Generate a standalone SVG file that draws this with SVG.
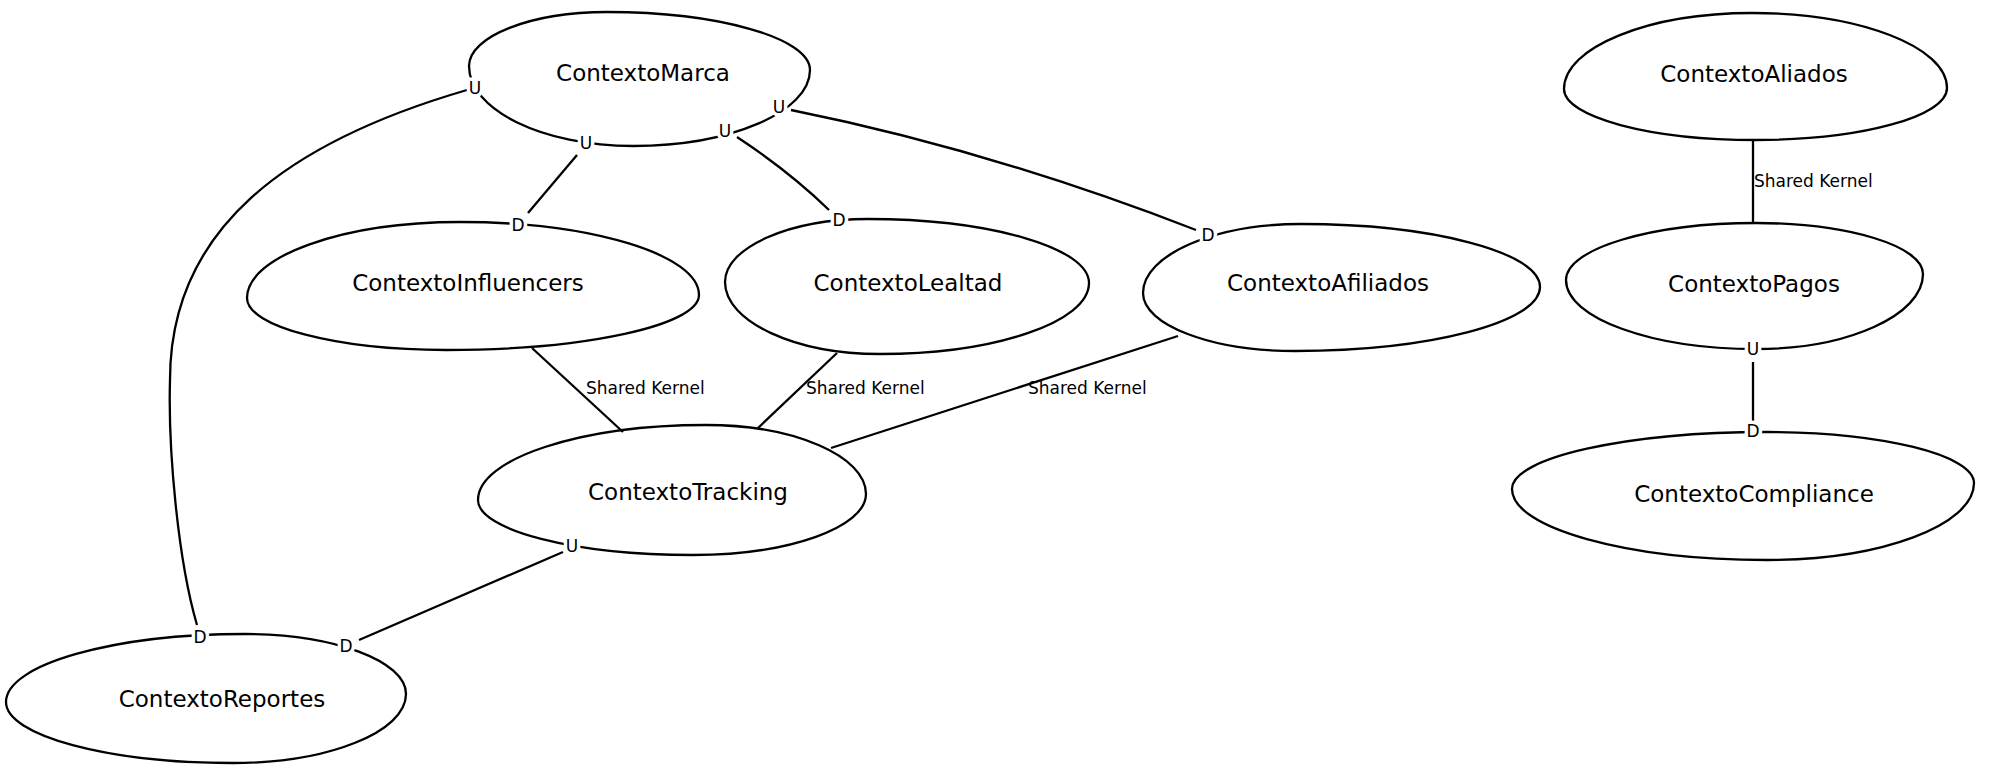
<svg xmlns="http://www.w3.org/2000/svg" width="2000" height="776" viewBox="0 0 2000 776">
<style>
.node{fill:none;stroke:#000;stroke-width:2.3}
.edge{fill:none;stroke:#000;stroke-width:2.3}
.name{font-family:"DejaVu Sans",sans-serif;font-size:23px;text-anchor:middle;fill:#000}
.ud{font-family:"DejaVu Sans",sans-serif;font-size:17px;text-anchor:middle;fill:#000;stroke:#fff;stroke-width:7;paint-order:stroke;stroke-linejoin:round}
.sk{font-family:"DejaVu Sans",sans-serif;font-size:17px;fill:#000}
</style>
<rect width="2000" height="776" fill="#fff"/>
<g id="connectors">
<path class="edge" d="M467,90 C285,143 170,230 170,380 C168,450 178,560 197,625"/>
<path class="edge" d="M577,155 L528,213"/>
<path class="edge" d="M737,137 Q790,172 829,210"/>
<path class="edge" d="M791,110 Q990,150 1196,230"/>
<path class="edge" d="M532,348 L623,432"/>
<path class="edge" d="M837,353 L758,428"/>
<path class="edge" d="M1178,336 L831,448"/>
<path class="edge" d="M563,552 L359,640"/>
<path class="edge" d="M1753,141 L1753,224"/>
<path class="edge" d="M1753,362 L1753,422"/>
<text class="sk" x="586" y="394">Shared Kernel</text>
<text class="sk" x="806" y="394">Shared Kernel</text>
<text class="sk" x="1028" y="394">Shared Kernel</text>
<text class="sk" x="1754" y="187">Shared Kernel</text>
</g>
<g id="ContextoMarca">
<path class="node" d="M469,66 C469,36.3 531.1,12 607,12 C718.7,12 810,38.1 810,70 C810,111.8 730.4,146 633,146 C542.8,146 469,110 469,66 Z"/>
<text class="name" x="643" y="81">ContextoMarca</text>
</g>
<g id="ContextoInfluencers">
<path class="node" d="M247,298 C247,256.2 342.9,222 460,222 C591.5,222 699,254.9 699,295 C699,325.3 585.2,350 446,350 C336.6,350 247,326.6 247,298 Z"/>
<text class="name" x="468" y="291">ContextoInfluencers</text>
</g>
<g id="ContextoLealtad">
<path class="node" d="M725,282 C725,247.4 789.4,219 868,219 C989.6,219 1089,247.8 1089,283 C1089,322.1 995,354 880,354 C794.8,354 725,321.6 725,282 Z"/>
<text class="name" x="908" y="291">ContextoLealtad</text>
</g>
<g id="ContextoAfiliados">
<path class="node" d="M1143,293 C1143,255.1 1214.1,224 1301,224 C1432.5,224 1540,252.4 1540,287 C1540,322.2 1429.8,351 1295,351 C1211.4,351 1143,324.9 1143,293 Z"/>
<text class="name" x="1328" y="291">ContextoAfiliados</text>
</g>
<g id="ContextoTracking">
<path class="node" d="M478,500 C478,458.75 580.6,425 706,425 C794,425 866,456.05 866,494 C866,527.55 788.15,555 693,555 C574.75,555 478,530.25 478,500 Z"/>
<text class="name" x="688" y="500">ContextoTracking</text>
</g>
<g id="ContextoReportes">
<path class="node" d="M6,702 C6,664.6 113.55,634 245,634 C333.55,634 406,661 406,694 C406,731.95 328.15,763 233,763 C108.15,763 6,735.55 6,702 Z"/>
<text class="name" x="222" y="707">ContextoReportes</text>
</g>
<g id="ContextoAliados">
<path class="node" d="M1564,89 C1564,47.2 1648.6,13 1752,13 C1859.25,13 1947,46.75 1947,88 C1947,116.6 1861,140 1756,140 C1650.4,140 1564,117.050 1564,89 Z"/>
<text class="name" x="1754" y="82">ContextoAliados</text>
</g>
<g id="ContextoPagos">
<path class="node" d="M1566,280 C1566,248.65 1651.5,223 1756,223 C1847.85,223 1923,245.95 1923,274 C1923,315.25 1847.85,349 1756,349 C1651.5,349 1566,317.95 1566,280 Z"/>
<text class="name" x="1754" y="292">ContextoPagos</text>
</g>
<g id="ContextoCompliance">
<path class="node" d="M1512,489 C1512,457.65 1626.75,432 1767,432 C1880.85,432 1974,454.95 1974,483 C1974,525.35 1880.85,560 1767,560 C1626.75,560 1512,528.05 1512,489 Z"/>
<text class="name" x="1754" y="502">ContextoCompliance</text>
</g>
<g id="end-labels">
<text class="ud" x="475" y="94">U</text>
<text class="ud" x="586" y="149">U</text>
<text class="ud" x="725" y="137">U</text>
<text class="ud" x="779" y="113">U</text>
<text class="ud" x="518" y="231">D</text>
<text class="ud" x="839" y="226">D</text>
<text class="ud" x="1208" y="241">D</text>
<text class="ud" x="572" y="552">U</text>
<text class="ud" x="200" y="643">D</text>
<text class="ud" x="346" y="652">D</text>
<text class="ud" x="1753" y="355">U</text>
<text class="ud" x="1753" y="437">D</text>
</g>
</svg>
